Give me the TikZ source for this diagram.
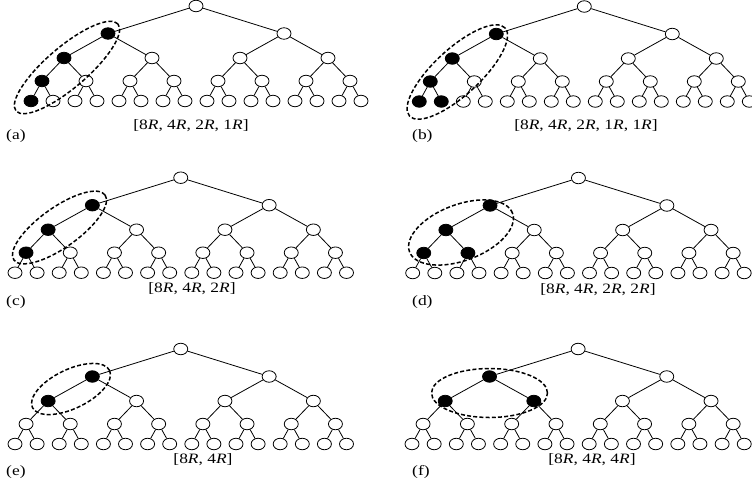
\documentclass[tikz,border=0pt]{standalone}
\usepackage{fontspec}
\setmainfont{Liberation Serif}[FakeStretch=1.22]
\usetikzlibrary{shapes.geometric}

\tikzset{
  vert/.style={ellipse, draw, line width=0.8pt, fill=white,
    minimum width=14pt, minimum height=11.5pt, inner sep=0pt},
  chosen/.style={fill=black},
  link/.style={line width=0.8pt},
  group/.style={dash pattern=on 4pt off 2.2pt, line width=1.5pt},
  caption/.style={font=\fontsize{14.3}{17}\selectfont, inner sep=0pt},
  tag/.style={font=\fontsize{14.3}{17}\selectfont, anchor=west, inner sep=0pt},
  % filled vertices of each tree
  a-1-0/.style=chosen, a-2-0/.style=chosen, a-3-0/.style=chosen, a-4-0/.style=chosen,
  b-1-0/.style=chosen, b-2-0/.style=chosen, b-3-0/.style=chosen, b-4-0/.style=chosen, b-4-1/.style=chosen,
  c-1-0/.style=chosen, c-2-0/.style=chosen, c-3-0/.style=chosen,
  d-1-0/.style=chosen, d-2-0/.style=chosen, d-3-0/.style=chosen, d-3-1/.style=chosen,
  e-1-0/.style=chosen, e-2-0/.style=chosen,
  f-1-0/.style=chosen, f-2-0/.style=chosen, f-2-1/.style=chosen,
}

% #1 name prefix, #2 x of leftmost leaf, #3 leaf spacing, #4 y of root
\newcommand\drawtree[4]{%
  \foreach \lv/\dy in {0/0,1/27.5,2/52,3/75,4/95}{
    \pgfmathtruncatemacro\lastidx{2^\lv-1}
    \pgfmathsetmacro\stride{2^(4-\lv)}
    \foreach \i in {0,...,\lastidx}{
      \node[vert, #1-\lv-\i/.try] (#1-\lv-\i)
        at ({#2+#3*((\i+0.5)*\stride-0.5)}, {#4+\dy}) {};
    }
  }
  \foreach \lv in {1,...,4}{
    \pgfmathtruncatemacro\lastidx{2^\lv-1}
    \pgfmathtruncatemacro\uplv{\lv-1}
    \foreach \i in {0,...,\lastidx}{
      \pgfmathtruncatemacro\up{floor(\i/2)}
      \draw[link] (#1-\uplv-\up) -- (#1-\lv-\i);
    }
  }
}

\begin{document}
\begin{tikzpicture}[x=1pt, y=-1pt]
  \useasboundingbox (0,0) rectangle (752,501);

  % (a)
  \drawtree{a}{31}{22}{6}
  \draw[group, rotate around={40.5:(67,67.5)}] (67,67.5) ellipse [x radius=67pt, y radius=20.5pt];
  \node[caption] (cap-a) at (191,126) {[8\textit{R}, 4\textit{R}, 2\textit{R}, 1\textit{R}]};
  \node[tag] (tag-a) at (6,136) {(a)};

  % (b)
  \drawtree{b}{419.3}{22}{6.5}
  \draw[group, rotate around={42.7:(457.3,72)}] (457.3,72) ellipse [x radius=65pt, y radius=23pt];
  \node[caption] (cap-b) at (586,126) {[8\textit{R}, 4\textit{R}, 2\textit{R}, 1\textit{R}, 1\textit{R}]};
  \node[tag] (tag-b) at (412,136) {(b)};

  % (c)
  \drawtree{c}{15}{22.1}{177.7}
  \draw[group, rotate around={35.5:(59.5,227.5)}] (59.5,227.5) ellipse [x radius=56pt, y radius=20pt];
  \node[caption] (cap-c) at (192,289) {[8\textit{R}, 4\textit{R}, 2\textit{R}]};
  \node[tag] (tag-c) at (6,301.7) {(c)};

  % (d)
  \drawtree{d}{412.7}{22.1}{178}
  \draw[group, rotate around={20.6:(461,232.5)}] (461,232.5) ellipse [x radius=55pt, y radius=28pt];
  \node[caption] (cap-d) at (598,290) {[8\textit{R}, 4\textit{R}, 2\textit{R}, 2\textit{R}]};
  \node[tag] (tag-d) at (412,301.7) {(d)};

  % (e)
  \drawtree{e}{15}{22.1}{349}
  \draw[group, rotate around={25.7:(71,389)}] (71,389) ellipse [x radius=42.8pt, y radius=19.5pt];
  \node[caption] (cap-e) at (203,460) {[8\textit{R}, 4\textit{R}]};
  \node[tag] (tag-e) at (6,471.7) {(e)};

  % (f)
  \drawtree{f}{412}{22.15}{349}
  \draw[group] (489.5,393) ellipse [x radius=58pt, y radius=24.5pt];
  \node[caption] (cap-f) at (592,460) {[8\textit{R}, 4\textit{R}, 4\textit{R}]};
  \node[tag] (tag-f) at (412,471.7) {(f)};
\end{tikzpicture}
\end{document}
